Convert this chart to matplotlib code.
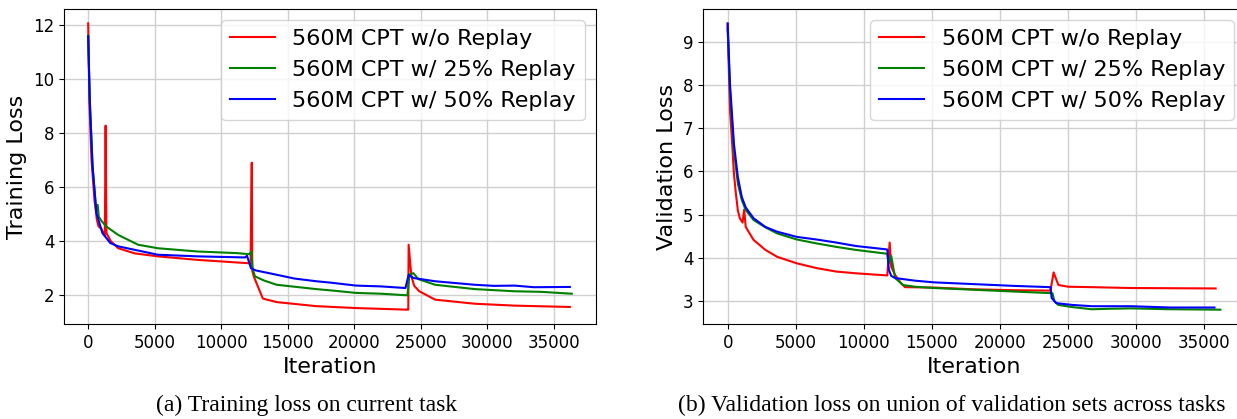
import matplotlib

matplotlib.use("Agg")
import matplotlib.pyplot as plt

# ---- data ---------------------------------------------------------------
LABELS = ["560M CPT w/o Replay", "560M CPT w/ 25% Replay", "560M CPT w/ 50% Replay"]
COLORS = ["red", "green", "blue"]
CAPTIONS = ["(a) Training loss on current task",
            "(b) Validation loss on union of validation sets across tasks"]

# (a) training loss
train_red_x = [0, 100, 250, 476, 650, 774, 1000, 1250, 1310, 1370, 1700, 2262, 3500,
               5238, 8214, 11934, 12200, 12290, 12330, 12440, 13124, 14165, 17142,
               20118, 23987, 24050, 24076, 24284, 24500, 24880, 26070, 29046, 32022, 36188]
train_red_y = [12.05, 9.0, 7.0, 5.5, 4.8, 4.55, 4.45, 4.2, 8.27, 4.3, 4.0, 3.74, 3.55,
               3.44, 3.31, 3.19, 3.18, 6.9, 2.9, 2.7, 1.88, 1.75, 1.6,
               1.53, 1.47, 1.47, 3.87, 2.7, 2.35, 2.15, 1.84, 1.69, 1.62, 1.57]

train_green_x = [0, 120, 330, 600, 714, 800, 1000, 1369, 2262, 3750, 5238, 8214, 11190,
                 12100, 12260, 12350, 12529, 13200, 14165, 17142, 18500, 20118, 22000,
                 23987, 24135, 24433, 24800, 26070, 29046, 32022, 34000, 36337]
train_green_y = [11.6, 9.2, 6.8, 5.1, 5.34, 4.9, 4.75, 4.54, 4.23, 3.87, 3.74, 3.62, 3.56,
                 3.52, 3.62, 3.0, 2.7, 2.55, 2.39, 2.23, 2.17, 2.09, 2.06,
                 2.0, 2.77, 2.82, 2.6, 2.39, 2.23, 2.15, 2.13, 2.06]

train_blue_x = [0, 119, 327, 625, 1071, 1667, 2262, 5238, 8214, 11785, 11934, 12231, 12600,
                14165, 15500, 17142, 18200, 20118, 22000, 23838, 24076, 24433, 26070,
                29046, 30500, 32022, 33500, 36188]
train_blue_y = [11.57, 9.2, 6.75, 5.03, 4.3, 3.93, 3.81, 3.5, 3.44, 3.4, 3.46, 3.0, 2.92,
                2.76, 2.62, 2.52, 2.47, 2.36, 2.33, 2.27, 2.76, 2.64, 2.52,
                2.39, 2.35, 2.36, 2.3, 2.31]

# (b) validation loss
val_red_x = [0, 173, 318, 462, 607, 751, 896, 1098, 1214, 1329, 1907, 2774, 3641, 5086,
             6531, 7976, 9421, 11733, 11907, 12022, 12311, 12745, 13034, 15201, 18091,
             20981, 23727, 23958, 24305, 25027, 26761, 29651, 35865]
val_red_y = [9.4, 7.41, 6.72, 5.95, 5.49, 5.1, 4.92, 4.82, 5.12, 4.72, 4.42, 4.19, 4.03, 3.88,
             3.77, 3.69, 3.65, 3.6, 4.36, 3.8, 3.61, 3.42, 3.33, 3.32, 3.28,
             3.26, 3.25, 3.67, 3.38, 3.34, 3.33, 3.31, 3.3]

val_green_x = [0, 173, 462, 751, 1040, 1329, 1907, 2774, 3641, 5086, 6531, 7976, 9421,
               11733, 11820, 12022, 12311, 12889, 13756, 15201, 18091, 20981, 23872,
               24016, 24305, 25316, 26761, 27917, 29651, 32541, 36211]
val_green_y = [9.3, 7.87, 6.49, 5.72, 5.34, 5.11, 4.88, 4.71, 4.57, 4.43, 4.34, 4.26, 4.19,
               4.1, 3.88, 4.05, 3.54, 3.38, 3.34, 3.31, 3.27, 3.23, 3.19,
               3.0, 2.92, 2.87, 2.82, 2.83, 2.84, 2.82, 2.81]

val_blue_x = [0, 173, 462, 751, 1040, 1329, 1907, 2774, 3641, 5086, 6531, 7976, 9421,
              11733, 11849, 12022, 12311, 13756, 15201, 18091, 20981, 23727, 23814,
              24161, 25316, 26761, 29651, 32541, 35778]
val_blue_y = [9.42, 8.02, 6.64, 5.87, 5.41, 5.17, 4.92, 4.72, 4.61, 4.49, 4.43, 4.36, 4.28,
              4.2, 3.73, 3.59, 3.54, 3.48, 3.44, 3.4, 3.36, 3.33, 3.08,
              2.96, 2.92, 2.89, 2.89, 2.86, 2.86]

TRAIN = [(train_red_x, train_red_y), (train_green_x, train_green_y), (train_blue_x, train_blue_y)]
VAL = [(val_red_x, val_red_y), (val_green_x, val_green_y), (val_blue_x, val_blue_y)]

# ---- figure -------------------------------------------------------------
W, H = 1237, 419
fig = plt.figure(figsize=(W / 100, H / 100), dpi=100)
ax1 = fig.add_axes([64 / W, 95 / H, 532 / W, 315 / H])
ax2 = fig.add_axes([703 / W, 95 / H, 542 / W, 315 / H])


def draw(ax, series, ylabel, yticks):
    for (x, y), c, lab in zip(series, COLORS, LABELS):
        ax.plot(x, y, color=c, lw=1.5, label=lab)
    ax.grid(True, color="#d0d0d0", lw=1.0)
    ax.set_axisbelow(True)
    ax.set_xticks(range(0, 35001, 5000))
    ax.set_yticks(yticks)
    ax.tick_params(labelsize=12)
    ax.set_xlabel("Iteration", fontsize=16)
    ax.set_ylabel(ylabel, fontsize=16)
    ax.legend(loc="upper right", fontsize=16)


draw(ax1, TRAIN, "Training Loss", [2, 4, 6, 8, 10, 12])
draw(ax2, VAL, "Validation Loss", [3, 4, 5, 6, 7, 8, 9])

fig.text(307 / W, 1 - 405 / H, CAPTIONS[0], ha="center", va="center",
         fontsize=17, family="Liberation Serif")
fig.text(952 / W, 1 - 405 / H, CAPTIONS[1], ha="center", va="center",
         fontsize=17, family="Liberation Serif")

fig.savefig("out.png", dpi=100)
